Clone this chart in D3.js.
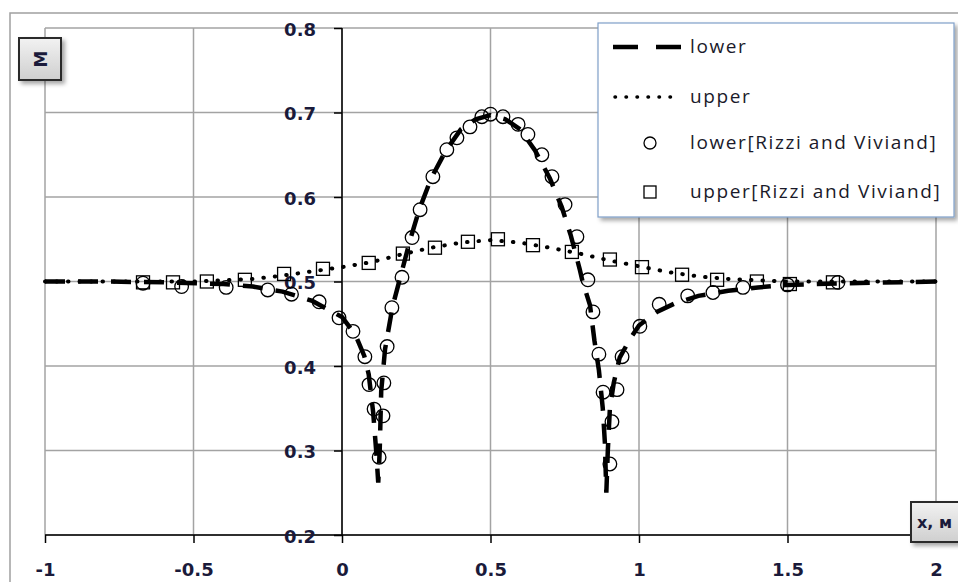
<!DOCTYPE html>
<html>
<head>
<meta charset="utf-8">
<script src="https://cdn.jsdelivr.net/npm/d3@7"></script>
<style>
	body { margin: 0; background: #fff; }
	svg { display: block; }
</style>
</head>
<body>
<div id="chart"></div>
<script>
// computed profiles
var lowerX = [-1, -0.8, -0.6, -0.4, -0.3, -0.2, -0.1, 0, 0.045, 0.075, 0.09, 0.105, 0.115, 0.122, 0.127, 0.132, 0.145, 0.17, 0.2, 0.23, 0.26, 0.3, 0.35, 0.4, 0.45, 0.5, 0.55, 0.6, 0.65, 0.7, 0.74, 0.77, 0.8, 0.81, 0.835, 0.85, 0.865, 0.878, 0.885, 0.89, 0.895, 0.902, 0.915, 0.935, 0.97, 1.0, 1.06, 1.12, 1.2, 1.3, 1.4, 1.5, 1.7, 2.0];
var lowerY = [0.5, 0.5, 0.499, 0.497, 0.494, 0.488, 0.477, 0.458, 0.437, 0.412, 0.39, 0.345, 0.3, 0.262, 0.3, 0.37, 0.42, 0.47, 0.51, 0.55, 0.585, 0.622, 0.655, 0.68, 0.692, 0.697, 0.692, 0.68, 0.655, 0.622, 0.588, 0.555, 0.515, 0.5, 0.472, 0.43, 0.395, 0.35, 0.31, 0.25, 0.3, 0.35, 0.38, 0.41, 0.432, 0.448, 0.464, 0.474, 0.483, 0.489, 0.493, 0.496, 0.498, 0.5];

var upperX = [-1, -0.7, -0.5, -0.3, -0.2, -0.1, 0, 0.1, 0.2, 0.3, 0.4, 0.5, 0.6, 0.7, 0.8, 0.9, 1.0, 1.1, 1.2, 1.3, 1.5, 1.7, 2.0];
var upperY = [0.5, 0.5, 0.5, 0.503, 0.507, 0.512, 0.517, 0.523, 0.532, 0.54, 0.546, 0.549, 0.546, 0.54, 0.533, 0.525, 0.518, 0.511, 0.506, 0.503, 0.5, 0.5, 0.5];

// Rizzi and Viviand
var rvLowerX = [-0.67, -0.54, -0.39, -0.25, -0.17, -0.077, -0.01, 0.037, 0.077, 0.091, 0.108, 0.125, 0.138, 0.141, 0.152, 0.168, 0.202, 0.236, 0.263, 0.306, 0.353, 0.387, 0.431, 0.471, 0.5, 0.542, 0.593, 0.626, 0.673, 0.707, 0.751, 0.791, 0.828, 0.845, 0.865, 0.879, 0.902, 0.909, 0.926, 0.943, 1.003, 1.068, 1.164, 1.249, 1.35, 1.5, 1.67];
var rvLowerY = [0.498, 0.494, 0.493, 0.49, 0.485, 0.476, 0.457, 0.441, 0.411, 0.378, 0.349, 0.292, 0.341, 0.38, 0.423, 0.469, 0.505, 0.552, 0.585, 0.624, 0.656, 0.67, 0.683, 0.695, 0.698, 0.695, 0.686, 0.674, 0.65, 0.624, 0.591, 0.553, 0.502, 0.464, 0.414, 0.369, 0.284, 0.334, 0.372, 0.411, 0.447, 0.473, 0.483, 0.487, 0.493, 0.496, 0.499];

var rvUpperX = [-0.67, -0.569, -0.455, -0.327, -0.195, -0.064, 0.09, 0.205, 0.313, 0.424, 0.525, 0.643, 0.774, 0.902, 1.01, 1.145, 1.263, 1.397, 1.508, 1.653];
var rvUpperY = [0.499, 0.499, 0.5, 0.502, 0.509, 0.515, 0.522, 0.533, 0.54, 0.547, 0.55, 0.543, 0.535, 0.526, 0.517, 0.508, 0.502, 0.5, 0.497, 0.499];

var xTicks = [-1, -0.5, 0, 0.5, 1, 1.5, 2];
var xTickLabels = ["-1", "-0.5", "0", "0.5", "1", "1.5", "2"];
var yTicks = [0.2, 0.3, 0.4, 0.5, 0.6, 0.7, 0.8];
var yTickLabels = ["0.2", "0.3", "0.4", "0.5", "0.6", "0.7", "0.8"];
var legendNames = ["lower", "upper", "lower[Rizzi and Viviand]", "upper[Rizzi and Viviand]"];

var width = 958, height = 582;

var svg = d3.select("#chart")
	.append("svg")
	.attr("width", width)
	.attr("height", height);

var defs = svg.append("defs");
var shadow = defs.append("filter").attr("id", "shadow")
	.attr("x", "-20%").attr("y", "-20%").attr("width", "140%").attr("height", "140%");
shadow.append("feDropShadow")
	.attr("dx", 3).attr("dy", 3).attr("stdDeviation", 2)
	.attr("flood-color", "#000").attr("flood-opacity", 0.35);
var grad = defs.append("linearGradient").attr("id", "boxfill")
	.attr("x1", 0).attr("y1", 0).attr("x2", 0).attr("y2", 1);
grad.append("stop").attr("offset", "0%").attr("stop-color", "#f2f2f2");
grad.append("stop").attr("offset", "100%").attr("stop-color", "#cfcfcf");

var x = d3.scaleLinear().domain([-1, 2]).range([45, 936]);
var y = d3.scaleLinear().domain([0.2, 0.8]).range([535, 28]);

// chart border
svg.append("rect")
	.attr("x", 10).attr("y", 13)
	.attr("width", 980).attr("height", 600)
	.attr("fill", "none")
	.attr("stroke", "#a0a0a0")
	.attr("stroke-width", 1.5);

// grid
svg.append("g").selectAll("line")
	.data(yTicks)
	.enter()
	.append("line")
		.attr("x1", x(-1)).attr("x2", x(2))
		.attr("y1", function(d) { return y(d); })
		.attr("y2", function(d) { return y(d); })
		.attr("stroke", "#a3a3a3")
		.attr("stroke-width", 1.5);

svg.append("g").selectAll("line")
	.data(xTicks)
	.enter()
	.append("line")
		.attr("x1", function(d) { return x(d); })
		.attr("x2", function(d) { return x(d); })
		.attr("y1", y(0.8)).attr("y2", y(0.2))
		.attr("stroke", "#a3a3a3")
		.attr("stroke-width", 1.5);

// axes
var xAxis = d3.axisBottom(x)
	.tickValues(xTicks)
	.tickSize(8)
	.tickPadding(20)
	.tickFormat(function(d, i) { return xTickLabels[i]; });

var yAxis = d3.axisLeft(y)
	.tickValues(yTicks)
	.tickSize(8)
	.tickPadding(18)
	.tickFormat(function(d, i) { return yTickLabels[i]; });

function styleAxis(g) {
	g.select(".domain").attr("stroke", "#000").attr("stroke-width", 1.5);
	g.selectAll(".tick line").attr("stroke", "#000").attr("stroke-width", 1.5);
	g.selectAll(".tick text")
		.attr("fill", "#1a1a3a")
		.style("font-family", "'DejaVu Sans', Verdana, sans-serif")
		.style("font-weight", "bold")
		.style("font-size", "18px");
}

svg.append("g")
	.attr("transform", "translate(0," + y(0.2) + ")")
	.call(xAxis)
	.call(styleAxis)
	.call(function(g) { g.select(".domain").attr("d", "M" + x(-1) + ",0H" + x(2)); });

svg.append("g")
	.attr("transform", "translate(" + x(0) + ",0)")
	.call(yAxis)
	.call(styleAxis)
	.call(function(g) {
		g.select(".domain").attr("d", "M0," + y(0.8) + "V" + y(0.2));
		g.selectAll(".tick text").attr("dy", "0.4em");
	});

// series
var line = d3.line()
	.x(function(d) { return x(d[0]); })
	.y(function(d) { return y(d[1]); });

svg.append("path")
	.datum(d3.zip(lowerX, lowerY))
	.attr("d", line)
	.attr("fill", "none")
	.attr("stroke", "#000")
	.attr("stroke-width", 4.5)
	.attr("stroke-dasharray", "20,13");

svg.append("path")
	.datum(d3.zip(upperX, upperY))
	.attr("d", line)
	.attr("fill", "none")
	.attr("stroke", "#000")
	.attr("stroke-width", 4)
	.attr("stroke-linecap", "round")
	.attr("stroke-dasharray", "0.5,11");

svg.append("g").selectAll("circle")
	.data(d3.zip(rvLowerX, rvLowerY))
	.enter()
	.append("circle")
		.attr("cx", function(d) { return x(d[0]); })
		.attr("cy", function(d) { return y(d[1]); })
		.attr("r", 6.8)
		.attr("fill", "none")
		.attr("stroke", "#000")
		.attr("stroke-width", 1.3);

svg.append("g").selectAll("rect")
	.data(d3.zip(rvUpperX, rvUpperY))
	.enter()
	.append("rect")
		.attr("x", function(d) { return x(d[0]) - 6.5; })
		.attr("y", function(d) { return y(d[1]) - 6.5; })
		.attr("width", 13)
		.attr("height", 13)
		.attr("fill", "none")
		.attr("stroke", "#000")
		.attr("stroke-width", 1.3);

// axis titles
svg.append("rect")
	.attr("x", 19).attr("y", 38).attr("width", 42).attr("height", 42)
	.attr("fill", "url(#boxfill)")
	.attr("stroke", "#2a2a2a").attr("stroke-width", 2)
	.attr("filter", "url(#shadow)");
svg.append("text")
	.attr("transform", "translate(41,59) rotate(-90)")
	.attr("text-anchor", "middle")
	.attr("dy", "0.36em")
	.attr("fill", "#1a1a3a")
	.style("font-family", "'DejaVu Sans', Verdana, sans-serif")
	.style("font-weight", "bold")
	.style("font-size", "17px")
	.text("M");

svg.append("rect")
	.attr("x", 911).attr("y", 502).attr("width", 70).attr("height", 40)
	.attr("fill", "url(#boxfill)")
	.attr("stroke", "#2a2a2a").attr("stroke-width", 2)
	.attr("filter", "url(#shadow)");
svg.append("text")
	.attr("x", 917).attr("y", 528)
	.attr("fill", "#1a1a3a")
	.style("font-family", "'DejaVu Sans', Verdana, sans-serif")
	.style("font-weight", "bold")
	.style("font-size", "16px")
	.text("x, м");

// legend
var legend = svg.append("g");
legend.append("rect")
	.attr("x", 598).attr("y", 23).attr("width", 356).attr("height", 194)
	.attr("fill", "#fff")
	.attr("stroke", "#7f9fc8").attr("stroke-width", 1.2)
	.attr("filter", "url(#shadow)");

var rowY = [47, 97, 143, 192];

legend.append("line")
	.attr("x1", 613).attr("x2", 681).attr("y1", rowY[0]).attr("y2", rowY[0])
	.attr("stroke", "#000").attr("stroke-width", 4.5)
	.attr("stroke-dasharray", "25,18");
legend.append("line")
	.attr("x1", 615).attr("x2", 681).attr("y1", rowY[1]).attr("y2", rowY[1])
	.attr("stroke", "#000").attr("stroke-width", 3.5)
	.attr("stroke-linecap", "round")
	.attr("stroke-dasharray", "0.5,10.5");
legend.append("circle")
	.attr("cx", 650).attr("cy", rowY[2]).attr("r", 6)
	.attr("fill", "none").attr("stroke", "#000").attr("stroke-width", 1.3);
legend.append("rect")
	.attr("x", 644).attr("y", rowY[3] - 6).attr("width", 12).attr("height", 12)
	.attr("fill", "none").attr("stroke", "#000").attr("stroke-width", 1.3);

legend.selectAll("text")
	.data(legendNames)
	.enter()
	.append("text")
		.attr("x", 690)
		.attr("y", function(d, i) { return rowY[i]; })
		.attr("dy", "0.32em")
		.attr("fill", "#1a1a2a")
		.style("font-family", "'Open Sans', sans-serif")
		.style("font-size", "19px")
		.style("letter-spacing", "1.6px")
		.text(function(d) { return d; });
</script>
</body>
</html>
